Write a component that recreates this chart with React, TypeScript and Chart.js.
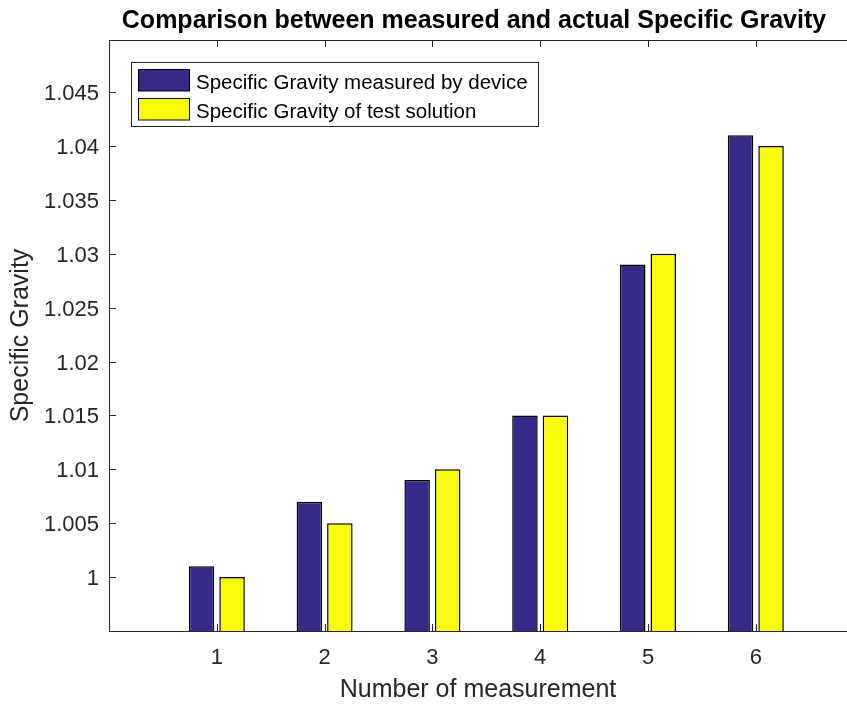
import React, { useEffect, useRef } from 'react';
import { Chart, registerables } from 'chart.js';

Chart.register(...registerables);

// ---- data ----
const categories = [1, 2, 3, 4, 5, 6];
const measuredValues = [1.001, 1.007, 1.009, 1.015, 1.029, 1.041];
const actualValues = [1.0, 1.005, 1.01, 1.015, 1.03, 1.04];
const yTickValues = [1, 1.005, 1.01, 1.015, 1.02, 1.025, 1.03, 1.035, 1.04, 1.045];
const yTickLabels = ['1', '1.005', '1.01', '1.015', '1.02', '1.025', '1.03', '1.035', '1.04', '1.045'];
const xTickLabels = ['1', '2', '3', '4', '5', '6'];
const seriesLabels = ['Specific Gravity measured by device', 'Specific Gravity of test solution'];
const titleText = 'Comparison between measured and actual Specific Gravity';
const xAxisTitle = 'Number of measurement';
const yAxisTitle = 'Specific Gravity';

const Y_MIN = 0.995;
const Y_MAX = 1.04983;
const X_MIN = 0;
const X_MAX = 6.846;

const FONT = '"Liberation Sans", Arial, Helvetica, sans-serif';
const AXIS_COLOR = '#262626';
const BLUE = '#352a87';
const YELLOW = '#f9fb0e';

const axesPlugin = {
  id: 'matlabAxes',
  afterDatasetsDraw(chart: any) {
    const { ctx, chartArea: a, scales } = chart;
    const tl = 7;
    ctx.save();
    ctx.strokeStyle = AXIS_COLOR;
    ctx.lineWidth = 1;
    ctx.beginPath();
    ctx.moveTo(a.left + 0.5, a.top + 0.5);
    ctx.lineTo(a.left + 0.5, a.bottom + 0.5);
    ctx.moveTo(a.left, a.bottom + 0.5);
    ctx.lineTo(a.right, a.bottom + 0.5);
    ctx.moveTo(a.left, a.top + 0.5);
    ctx.lineTo(a.right, a.top + 0.5);
    categories.forEach((c) => {
      const px = Math.round(scales.x.getPixelForValue(c)) + 0.5;
      ctx.moveTo(px, a.bottom);
      ctx.lineTo(px, a.bottom - tl);
      ctx.moveTo(px, a.top);
      ctx.lineTo(px, a.top + tl);
    });
    yTickValues.forEach((v) => {
      const py = Math.round(scales.y.getPixelForValue(v)) + 0.5;
      ctx.moveTo(a.left, py);
      ctx.lineTo(a.left + tl, py);
    });
    ctx.stroke();
    ctx.restore();
  },
};

const titleLegendPlugin = {
  id: 'titleLegend',
  afterDraw(chart: any) {
    const { ctx } = chart;
    ctx.save();
    ctx.fillStyle = '#000';
    ctx.font = `bold 25px ${FONT}`;
    ctx.textAlign = 'center';
    ctx.textBaseline = 'alphabetic';
    ctx.fillText(titleText, 474, 28);

    const bx = 131.5, by = 62.5, bw = 407, bh = 64;
    ctx.fillStyle = '#fff';
    ctx.fillRect(bx, by, bw, bh);
    ctx.strokeStyle = '#262626';
    ctx.lineWidth = 1;
    ctx.strokeRect(bx, by, bw, bh);
    ctx.font = `20.5px ${FONT}`;
    ctx.textAlign = 'left';
    chart.data.datasets.forEach((ds: any, i: number) => {
      const sy = 69.5 + i * 29;
      ctx.fillStyle = ds.backgroundColor;
      ctx.fillRect(138.5, sy, 51, 21.5);
      ctx.strokeStyle = '#000';
      ctx.strokeRect(138.5, sy, 51, 21.5);
      ctx.fillStyle = '#000';
      ctx.fillText(ds.label, 196, 89 + i * 29);
    });
    ctx.restore();
  },
};

export default function App() {
  const canvasRef = useRef<HTMLCanvasElement | null>(null);

  useEffect(() => {
    if (!canvasRef.current) return;
    const barCommon = {
      borderColor: '#000',
      borderWidth: 1.5,
      borderSkipped: 'start',
      base: Y_MIN,
      categoryPercentage: 0.566,
      barPercentage: 0.836,
    };
    const chart = new Chart(canvasRef.current, {
      type: 'bar',
      data: {
        datasets: [
          {
            label: seriesLabels[0],
            data: categories.map((c, i) => ({ x: c, y: measuredValues[i] })),
            backgroundColor: BLUE,
            ...barCommon,
          },
          {
            label: seriesLabels[1],
            data: categories.map((c, i) => ({ x: c, y: actualValues[i] })),
            backgroundColor: YELLOW,
            ...barCommon,
          },
        ] as any,
      },
      options: {
        animation: false,
        responsive: false,
        devicePixelRatio: 1,
        layout: { padding: { top: 40, right: 0, left: 0, bottom: 0 } },
        plugins: {
          legend: { display: false },
          title: { display: false },
          tooltip: { enabled: false },
        },
        scales: {
          x: {
            type: 'linear',
            min: X_MIN,
            max: X_MAX,
            offset: false,
            grid: { display: false, drawTicks: false, offset: false },
            border: { display: false },
            afterBuildTicks: (s: any) => {
              s.ticks = categories.map((c) => ({ value: c }));
            },
            afterFit: (s: any) => {
              s.height = 78;
            },
            ticks: {
              padding: 14,
              color: AXIS_COLOR,
              font: { family: FONT, size: 22 },
              callback: (_v: any, i: number) => xTickLabels[i],
              maxRotation: 0,
              autoSkip: false,
            },
            title: {
              display: true,
              text: xAxisTitle,
              color: AXIS_COLOR,
              font: { family: FONT, size: 25 },
              padding: { top: 0, bottom: 4 },
            },
          },
          y: {
            type: 'linear',
            min: Y_MIN,
            max: Y_MAX,
            grid: { display: false, drawTicks: false },
            border: { display: false },
            afterBuildTicks: (s: any) => {
              s.ticks = yTickValues.map((v) => ({ value: v }));
            },
            afterFit: (s: any) => {
              s.width = 109;
            },
            ticks: {
              padding: 10,
              labelOffset: 2,
              color: AXIS_COLOR,
              font: { family: FONT, size: 22 },
              callback: (_v: any, i: number) => yTickLabels[i],
              autoSkip: false,
            },
            title: {
              display: true,
              text: yAxisTitle,
              color: AXIS_COLOR,
              font: { family: FONT, size: 25 },
              padding: { top: 6, bottom: 0 },
            },
          },
        },
      } as any,
      plugins: [axesPlugin, titleLegendPlugin],
    });
    return () => chart.destroy();
  }, []);

  return (
    <div style={{ position: 'absolute', left: 0, top: 0, width: 847, height: 709, overflow: 'hidden', background: '#fff' }}>
      <canvas ref={canvasRef} width={847} height={709} style={{ display: 'block', width: 847, height: 709 }} />
    </div>
  );
}
